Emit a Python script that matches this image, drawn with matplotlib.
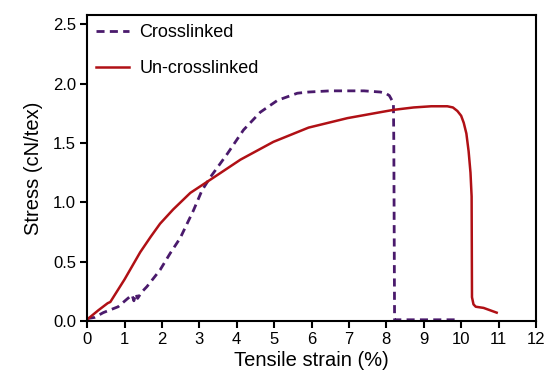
import matplotlib.pyplot as plt

plt.rcParams['font.family'] = ['Liberation Sans', 'DejaVu Sans']

# crosslinked sample (dashed purple)
cross_strain = [0.0, 0.2, 0.43, 0.83, 1.05, 1.2, 1.25, 1.3, 1.35, 1.45, 1.6, 1.95,
                2.22, 2.49, 2.84, 3.07, 3.29, 3.75, 4.18, 4.63, 5.09, 5.62, 5.92,
                6.5, 6.96, 7.4, 7.84, 7.98, 8.08, 8.15, 8.19, 8.2, 8.22, 8.3, 9.0, 9.9]
cross_stress = [0.02, 0.03, 0.07, 0.12, 0.18, 0.22, 0.17, 0.23, 0.19, 0.24, 0.29, 0.43,
                0.57, 0.70, 0.93, 1.10, 1.21, 1.41, 1.61, 1.76, 1.86, 1.92, 1.93,
                1.94, 1.94, 1.94, 1.93, 1.92, 1.90, 1.86, 1.82, 1.5, 0.01, 0.01, 0.01, 0.01]

# un-crosslinked sample (solid red)
plain_strain = [0.0, 0.03, 0.3, 0.55, 0.62, 0.8, 1.0, 1.42, 1.7, 1.95, 2.3, 2.76, 3.29,
                4.1, 4.98, 5.92, 6.96, 7.84, 8.2, 8.73, 9.2, 9.63, 9.78, 9.9,
                10.0, 10.07, 10.14, 10.2, 10.25, 10.28, 10.29, 10.33, 10.39, 10.6, 10.95]
plain_stress = [0.01, 0.02, 0.09, 0.15, 0.16, 0.25, 0.35, 0.58, 0.71, 0.82, 0.94, 1.08, 1.19,
                1.36, 1.51, 1.63, 1.71, 1.76, 1.78, 1.80, 1.81, 1.81, 1.80, 1.77,
                1.73, 1.67, 1.58, 1.43, 1.25, 1.05, 0.20, 0.14, 0.12, 0.11, 0.07]

x_ticks = list(range(0, 13))
y_ticks = [0.0, 0.5, 1.0, 1.5, 2.0, 2.5]

fig = plt.figure(figsize=(5.48, 3.83), dpi=100)
ax = fig.add_axes([0.159, 0.162, 0.819, 0.799])

ax.plot(cross_strain, cross_stress, color='#4a1a6c', lw=2.0,
        dashes=(2.9, 1.9), label='Crosslinked')
ax.plot(plain_strain, plain_stress, color='#b01015', lw=1.8,
        label='Un-crosslinked')

ax.set_xlim(0, 12)
ax.set_ylim(0, 2.58)
ax.set_xticks(x_ticks)
ax.set_yticks(y_ticks)
ax.set_yticklabels([f'{v:.1f}' for v in y_ticks])
ax.tick_params(direction='out', length=5, width=1.5, labelsize=12, pad=3)
for sp in ax.spines.values():
    sp.set_linewidth(1.5)

ax.set_xlabel('Tensile strain (%)', fontsize=14.5, labelpad=3)
ax.set_ylabel('Stress (cN/tex)', fontsize=14.5, labelpad=7)

ax.legend(loc='upper left', frameon=False, fontsize=13, handlelength=1.8,
          labelspacing=1.05, borderaxespad=0.1, handletextpad=0.6)

fig.savefig('out.png', dpi=100)
